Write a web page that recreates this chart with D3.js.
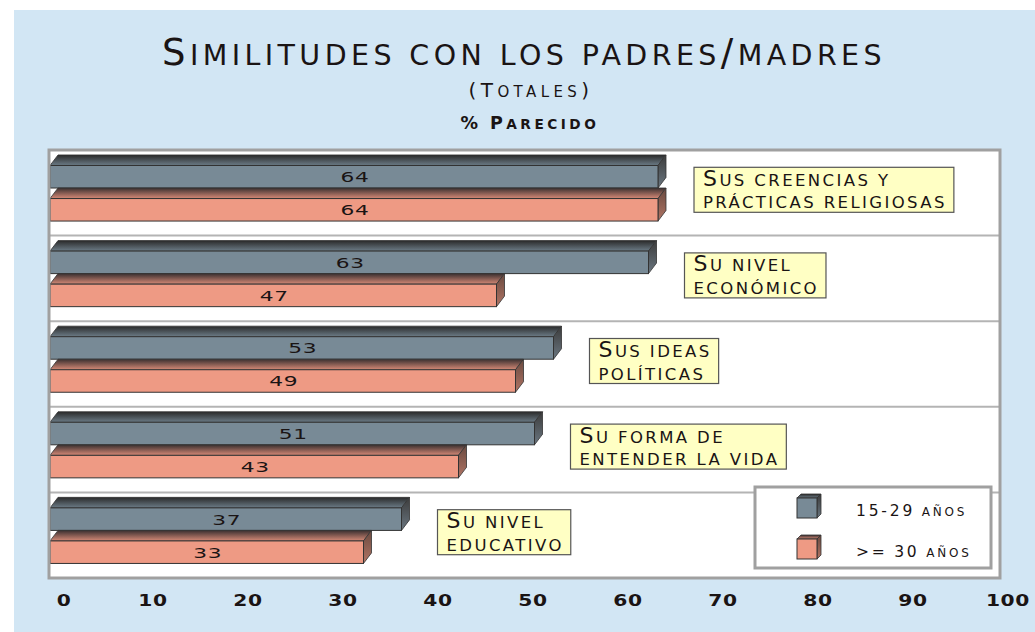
<!DOCTYPE html>
<html>
<head>
<meta charset="utf-8">
<script src="https://d3js.org/d3.v7.min.js"></script>
<style>
  body { margin: 0; background: #fff; }
  text { font-family: "DejaVu Sans", sans-serif; fill: #1a1414; }
</style>
</head>
<body>
<svg width="1035" height="632"></svg>
<script>
// data
var categories = ["creencias", "economico", "ideas", "vida", "educativo"];
var categoryLines = [
  ["Sus creencias y", "prácticas religiosas"],
  ["Su nivel", "económico"],
  ["Sus ideas", "políticas"],
  ["Su forma de", "entender la vida"],
  ["Su nivel", "educativo"]
];
var seriesNames = ["15-29 años", ">= 30 años"];
var young = [64, 63, 53, 51, 37];
var older = [64, 47, 49, 43, 33];
var tickValues = [0, 10, 20, 30, 40, 50, 60, 70, 80, 90, 100];

var colors = ["#788a96", "#ee9a84"];
var tops = ["#2a2a2a", "#3a3030"];
var sides = [["#3c3c3c", "#6a7680"], ["#6a4a40", "#b07464"]];

var svg = d3.select("svg");
var defs = svg.append("defs");

[0, 1].forEach(function(i) {
  var g = defs.append("linearGradient").attr("id", "top" + i)
    .attr("x1", 0).attr("y1", 0).attr("x2", 0).attr("y2", 1);
  g.append("stop").attr("offset", 0).attr("stop-color", tops[i]);
  g.append("stop").attr("offset", 1).attr("stop-color", d3.color(colors[i]).darker(0.3));
  var s = defs.append("linearGradient").attr("id", "side" + i)
    .attr("x1", 0).attr("y1", 0).attr("x2", 0).attr("y2", 1);
  s.append("stop").attr("offset", 0).attr("stop-color", sides[i][0]);
  s.append("stop").attr("offset", 1).attr("stop-color", sides[i][1]);
});

// fake small caps: lowercase letters become smaller capitals
function smallCaps(t, str, big, small) {
  var runs = [];
  str.split("").forEach(function(c) {
    var low = c !== c.toUpperCase() || c === " ";
    var last = runs[runs.length - 1];
    if (last && last.low === low) last.s += c;
    else runs.push({ low: low, s: c });
  });
  runs.forEach(function(r) {
    t.append("tspan").style("font-size", (r.low ? small : big) + "px").text(r.s.toUpperCase());
  });
  return t;
}

// background
svg.append("rect").attr("x", 14).attr("y", 10).attr("width", 1021).attr("height", 622)
  .attr("fill", "#d2e6f4");

// titles
smallCaps(svg.append("text").attr("x", 524).attr("y", 65).attr("text-anchor", "middle")
  .style("letter-spacing", "4.4px"), "Similitudes con los padres/madres", 37, 28.5);
smallCaps(svg.append("text").attr("x", 531).attr("y", 97).attr("text-anchor", "middle")
  .style("letter-spacing", "4.4px"), "(Totales)", 20, 15);
smallCaps(svg.append("text").attr("x", 530).attr("y", 128.5).attr("text-anchor", "middle")
  .style("letter-spacing", "3.5px").style("font-weight", "bold"), "% Parecido", 17.5, 13.7);

var x = d3.scaleLinear().domain([0, 100]).range([50, 1000]);
var y = d3.scaleBand().domain(categories).range([150, 578]);
var bw = y.bandwidth();
var barH = bw * 0.263, dy = bw * 0.123, dx = 8;
var firstTop = bw * 0.181;

// plot area
svg.append("rect").attr("x", 49).attr("y", 150).attr("width", 951).attr("height", 428)
  .attr("fill", "#fff");
svg.selectAll("line.sep").data(categories.slice(1)).enter().append("line")
  .attr("x1", 49).attr("x2", 1000)
  .attr("y1", function(d) { return y(d); }).attr("y2", function(d) { return y(d); })
  .attr("stroke", "#b4b4b4").attr("stroke-width", 2);

var rows = categories.map(function(c, i) {
  return { cat: c, lines: categoryLines[i], vals: [young[i], older[i]] };
});

function bar3d(g, x0, yt, w, h, ddx, ddy, i) {
  g.append("path")
    .attr("d", "M" + x0 + "," + yt + "L" + (x0 + ddx) + "," + (yt - ddy) + "L" + (x0 + w + ddx) + "," + (yt - ddy) + "L" + (x0 + w) + "," + yt + "Z")
    .attr("fill", "url(#top" + i + ")").attr("stroke", "#333").attr("stroke-width", 0.8);
  g.append("path")
    .attr("d", "M" + (x0 + w) + "," + yt + "L" + (x0 + w + ddx) + "," + (yt - ddy) + "L" + (x0 + w + ddx) + "," + (yt + h - ddy) + "L" + (x0 + w) + "," + (yt + h) + "Z")
    .attr("fill", "url(#side" + i + ")").attr("stroke", "#333").attr("stroke-width", 0.8);
  g.append("rect").attr("x", x0).attr("y", yt).attr("width", w).attr("height", h)
    .attr("fill", colors[i]).attr("stroke", "#333").attr("stroke-width", 1);
}

var rowG = svg.selectAll("g.row").data(rows).enter().append("g").attr("class", "row");

rowG.each(function(d) {
  var g = d3.select(this);
  var y0 = y(d.cat);
  d.vals.forEach(function(v, i) {
    var yt = y0 + firstTop + i * (barH + dy);
    bar3d(g, x(0), yt, x(v) - x(0), barH, dx, dy, i);
    g.append("text")
      .attr("transform", "translate(" + ((x(0) + x(v)) / 2 + 1) + "," + (yt + barH / 2 + 5.5) + ") scale(1.5,1)")
      .attr("text-anchor", "middle").style("font-size", "14.5px").style("letter-spacing", "0.5px")
      .text(v);
  });
  // label box
  var bx = x(d3.max(d.vals)) + dx + 28;
  var by = y0 + bw / 2 - 25.5;
  var box = g.append("rect").attr("fill", "#ffffc4").attr("stroke", "#555").attr("stroke-width", 1.2);
  var t = g.append("text").style("letter-spacing", "2.4px");
  d.lines.forEach(function(l, k) {
    smallCaps(t.append("tspan").attr("x", bx + 9).attr("y", by + (k ? 41 : 18.5)), l, 22, 16.5);
  });
  var bb = t.node().getBBox();
  box.attr("x", bx).attr("y", by).attr("width", bb.width + 16).attr("height", 45);
});

// plot border
svg.append("rect").attr("x", 49).attr("y", 150).attr("width", 951).attr("height", 428)
  .attr("fill", "none").attr("stroke", "#a0a0a0").attr("stroke-width", 3);

// x axis labels
svg.selectAll("text.tick").data(tickValues).enter().append("text")
  .attr("transform", function(d) {
    return "translate(" + (x(d) + (d === 0 ? 14 : 8)) + ",606) scale(1.35,1)";
  })
  .attr("text-anchor", "middle").style("font-size", "15px").style("font-weight", "bold")
  .style("letter-spacing", "0.5px")
  .text(function(d) { return d; });

// legend
var lg = svg.append("g");
lg.append("rect").attr("x", 755).attr("y", 487).attr("width", 236).attr("height", 81)
  .attr("fill", "#fff").attr("stroke", "#a0a0a0").attr("stroke-width", 3);
seriesNames.forEach(function(s, i) {
  var ly = 498 + i * 41;
  bar3d(lg, 797, ly, 20, 20, 4, 4, i);
  smallCaps(lg.append("text").attr("x", 856).attr("y", ly + 17.5).style("letter-spacing", "2.8px"),
    s, 15.5, 12);
});
</script>
</body>
</html>
